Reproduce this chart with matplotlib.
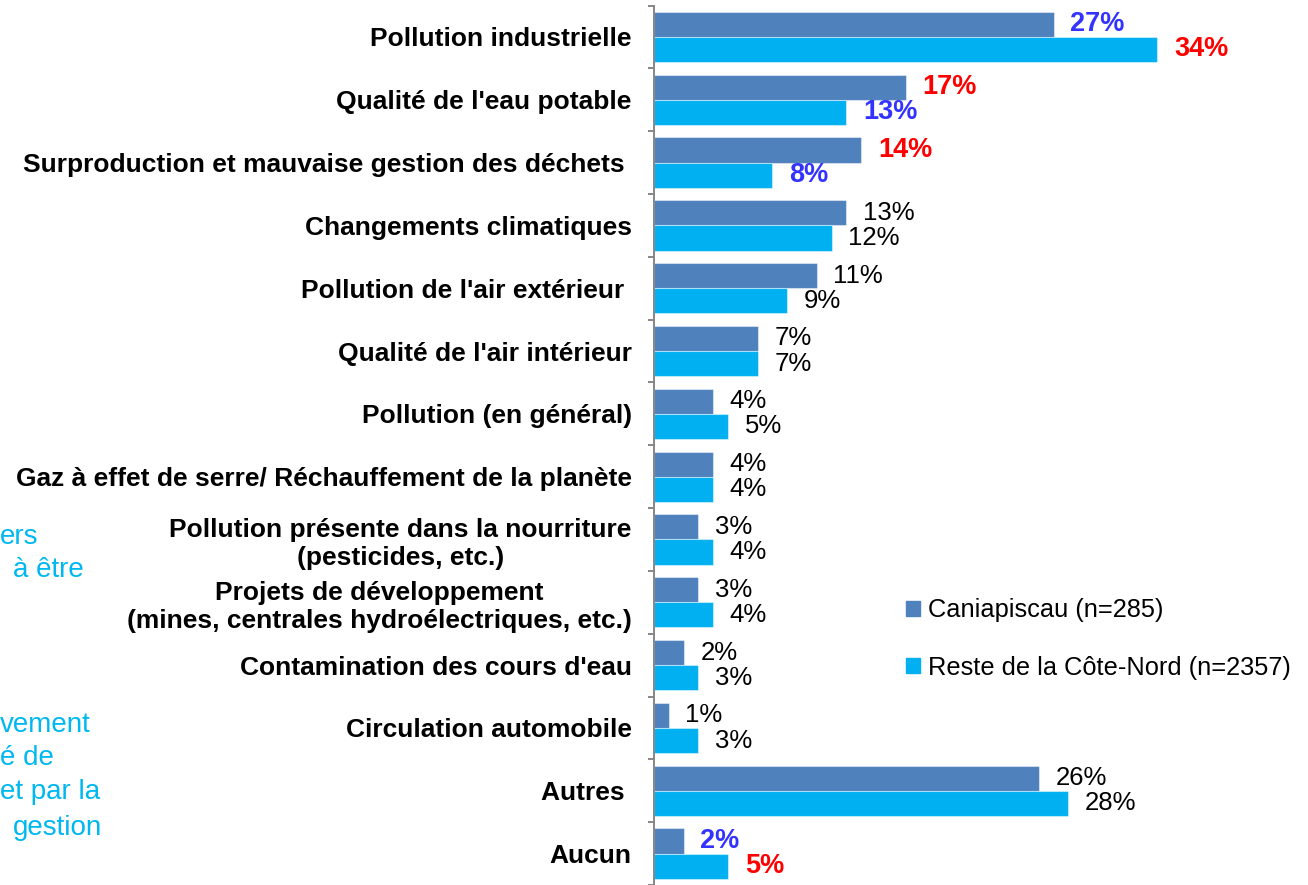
import numpy as np
import matplotlib.pyplot as plt
from matplotlib.patches import Patch

plt.rcParams['font.family'] = ['Liberation Sans', 'DejaVu Sans']

categories = [
    "Pollution industrielle",
    "Qualité de l'eau potable",
    "Surproduction et mauvaise gestion des déchets ",
    "Changements climatiques",
    "Pollution de l'air extérieur ",
    "Qualité de l'air intérieur",
    "Pollution (en général)",
    "Gaz à effet de serre/ Réchauffement de la planète",
    "Pollution présente dans la nourriture\n(pesticides, etc.)",
    "Projets de développement\n(mines, centrales hydroélectriques, etc.)",
    "Contamination des cours d'eau",
    "Circulation automobile",
    "Autres ",
    "Aucun",
]
caniapiscau = [27, 17, 14, 13, 11, 7, 4, 4, 3, 3, 2, 1, 26, 2]
reste_cote_nord = [34, 13, 8, 12, 9, 7, 5, 4, 4, 4, 3, 3, 28, 5]

# significant differences: '+' higher, '-' lower, '' none
sig_caniapiscau = ['-', '+', '+', '', '', '', '', '', '', '', '', '', '', '-']
sig_reste = ['+', '-', '-', '', '', '', '', '', '', '', '', '', '', '+']

series_names = ["Caniapiscau (n=285)", "Reste de la Côte-Nord (n=2357)"]

# fragments of the side note that runs off the left edge
side_note = [("ers", 0, 537), ("à être", 13, 570),
             ("vement", 0, 725), ("é de", 0, 758),
             ("et par la", 0, 792), ("gestion", 13, 828)]

c_dark = '#4F81BD'
c_light = '#00B0F0'
sig_colors = {'+': '#FF0000', '-': '#3333FF'}

W, H = 1308, 885
fig = plt.figure(figsize=(W / 100, H / 100), dpi=100)
ax = fig.add_axes([654 / W, 0.0, 592 / W, 879.5 / H])

y = np.arange(len(categories))
h = 0.4
b1 = ax.barh(y - h / 2, caniapiscau, height=h, color=c_dark,
             edgecolor=(1, 1, 1, 0.45), linewidth=0.8)
b2 = ax.barh(y + h / 2, reste_cote_nord, height=h, color=c_light,
             edgecolor=(1, 1, 1, 0.45), linewidth=0.8)

for bars, vals, sig in [(b1, caniapiscau, sig_caniapiscau),
                        (b2, reste_cote_nord, sig_reste)]:
    labels = ax.bar_label(bars, labels=[f"{v}%" for v in vals], padding=12,
                          fontsize=18.5)
    for t, s in zip(labels, sig):
        if s:
            t.set_color(sig_colors[s])
            t.set_fontweight('bold')
            t.set_fontsize(19.5)

ax.set_xlim(0, 40)
ax.set_ylim(len(categories) - 0.5, -0.5)

ax.set_yticks(y)
ax.set_yticklabels(categories, fontsize=19, fontweight='bold',
                   multialignment='center')
ax.set_yticks(np.arange(len(categories) + 1) - 0.5, minor=True)
ax.tick_params(axis='y', which='major', length=0, pad=16)
ax.tick_params(axis='y', which='minor', length=4.5, width=1.4,
               color='#868686', direction='out')
ax.set_xticks([])

for side in ['top', 'right', 'bottom']:
    ax.spines[side].set_visible(False)
ax.spines['left'].set_color('#868686')
ax.spines['left'].set_linewidth(1.4)

handles = [Patch(color=c_dark), Patch(color=c_light)]
ax.legend(handles, series_names, loc='center left',
          bbox_to_anchor=(906 / W, 1 - 639 / H), bbox_transform=fig.transFigure,
          frameon=False, fontsize=18.3, handlelength=0.55, handleheight=0.55,
          handletextpad=0.3, labelspacing=1.32, borderpad=0, borderaxespad=0)

for txt, px, py in side_note:
    fig.text(px / W, 1 - py / H, txt, color='#00B8F0', fontsize=20,
             ha='left', va='center')

fig.savefig('out.png', dpi=100)
